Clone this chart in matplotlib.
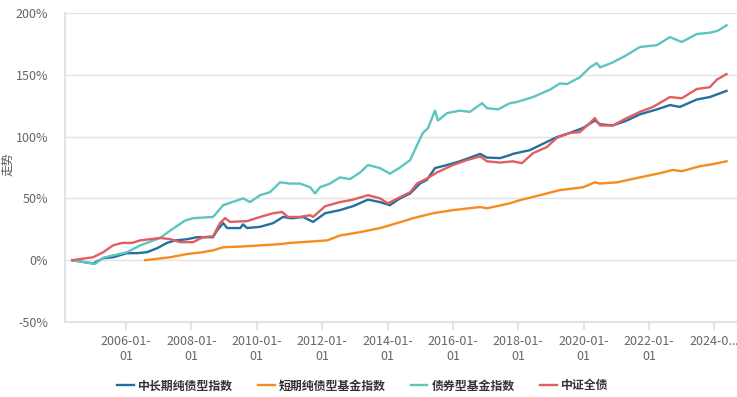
import matplotlib.pyplot as plt

plt.rcParams['font.family'] = ['Noto Sans CJK SC', 'DejaVu Sans']

# decimal years, cumulative return in %
blue_t = [2004.35, 2004.99, 2005.30, 2005.60, 2006.03, 2006.34, 2006.64, 2006.95, 2007.25,
          2007.50, 2007.87, 2008.17, 2008.48, 2008.66, 2008.78, 2008.97, 2009.09, 2009.49,
          2009.58, 2009.70, 2010.10, 2010.50, 2010.80, 2011.02, 2011.11, 2011.41, 2011.72,
          2012.09, 2012.54, 2012.94, 2013.40, 2013.77, 2014.07, 2014.38, 2014.69, 2014.99,
          2015.20, 2015.45, 2015.82, 2016.21, 2016.83, 2017.04, 2017.44, 2017.74, 2017.83,
          2018.35, 2018.66, 2019.18, 2019.58, 2019.98, 2020.34, 2020.50, 2020.89, 2021.32,
          2021.72, 2022.24, 2022.64, 2022.94, 2023.46, 2023.86, 2024.37]
blue_v = [0, -2.7, 1.6, 2.4, 5.7, 5.7, 6.5, 9.7, 14, 16, 17, 18.6, 18.6, 18.6, 24, 30, 26, 26,
          29, 26, 27, 30, 35, 34, 34, 35, 31, 38, 40.5, 43.7, 49, 47, 44.5, 50, 54, 62, 65,
          74.5, 77, 80, 86, 83, 82.6, 85, 86, 89, 93, 99.6, 103, 107, 113, 110, 109, 113,
          118, 122, 125.5, 124, 130, 132, 137]

orange_t = [2006.58, 2007.35, 2007.87, 2008.35, 2008.66, 2008.97, 2009.49, 2010.10, 2010.71,
            2011.02, 2012.15, 2012.54, 2013.16, 2013.77, 2014.29, 2014.78, 2015.39, 2016.00,
            2016.83, 2017.04, 2017.74, 2018.05, 2018.66, 2019.27, 2019.98, 2020.34, 2020.50,
            2021.02, 2021.72, 2022.33, 2022.73, 2023.00, 2023.55, 2023.95, 2024.37]
orange_v = [0, 2.4, 5, 6.5, 8, 10.5, 11, 12, 13, 14, 16, 20, 22.7, 26, 30, 34, 38, 40.5, 43, 42,
            46, 48.6, 52.6, 56.7, 59, 63, 62, 63, 67, 70.4, 73, 72, 76, 77.7, 80]

teal_t = [2004.35, 2004.70, 2005.05, 2005.30, 2006.03, 2006.43, 2007.04, 2007.35, 2007.80,
          2008.05, 2008.66, 2008.97, 2009.58, 2009.79, 2010.10, 2010.40, 2010.71, 2011.02,
          2011.32, 2011.63, 2011.78, 2011.93, 2012.24, 2012.54, 2012.85, 2013.16, 2013.40,
          2013.77, 2014.07, 2014.38, 2014.69, 2014.90, 2015.08, 2015.24, 2015.45, 2015.54,
          2015.82, 2016.21, 2016.52, 2016.89, 2017.04, 2017.38, 2017.74, 2017.96, 2018.45,
          2018.97, 2019.27, 2019.49, 2019.88, 2020.19, 2020.40, 2020.50, 2020.89, 2021.32,
          2021.72, 2022.24, 2022.64, 2023.00, 2023.46, 2023.86, 2024.10, 2024.37]
teal_v = [0, -1.5, -3, 2, 6.5, 12, 18, 24, 32, 34, 35, 44.5, 50, 47, 52.6, 55, 63, 62, 62, 59,
          54, 59, 62, 67, 65.6, 71, 77, 74.5, 70, 75, 81, 93, 103, 107, 121, 113, 119, 121,
          120, 127, 123, 122, 127, 128, 132, 138, 143, 142.5, 148, 156, 159.5, 156, 160, 166,
          172.5, 174, 180.5, 176.5, 183, 184, 185.6, 190]

red_t = [2004.35, 2004.99, 2005.30, 2005.60, 2005.88, 2006.18, 2006.43, 2006.73, 2007.04,
         2007.35, 2007.65, 2008.05, 2008.35, 2008.66, 2008.87, 2009.03, 2009.18, 2009.70,
         2010.10, 2010.50, 2010.77, 2010.95, 2011.32, 2011.63, 2011.72, 2012.09, 2012.54,
         2012.94, 2013.40, 2013.77, 2014.01, 2014.38, 2014.69, 2014.90, 2015.20, 2015.51,
         2016.00, 2016.43, 2016.83, 2017.04, 2017.44, 2017.83, 2018.11, 2018.45, 2018.87,
         2019.18, 2019.58, 2019.88, 2020.19, 2020.34, 2020.50, 2020.89, 2021.32, 2021.72,
         2022.12, 2022.64, 2023.00, 2023.46, 2023.86, 2024.07, 2024.37]
red_v = [0, 2.4, 6.5, 12, 14, 14, 16, 17, 18, 17, 14.6, 14.6, 18.6, 19.4, 30, 34, 31, 31.6, 35,
         38, 39, 35, 35, 36.4, 35, 43.7, 47, 49, 52.6, 50, 46, 51, 55, 62, 66, 71, 77, 81, 84,
         80, 79, 80, 78.5, 86.6, 91.5, 99, 103, 103.6, 111, 115, 109, 109, 115, 120, 124,
         132, 131, 138.5, 140, 146, 150.6]

names = ['中长期纯债型指数', '短期纯债型基金指数', '债券型基金指数', '中证全债']
colors = ['#21709e', '#f58c1f', '#5ec4c1', '#e35d60']

tick_years = [2006, 2008, 2010, 2012, 2014, 2016, 2018, 2020, 2022, 2024]
tick_labels = [f'{y}-01-\n01' for y in tick_years[:-1]] + ['2024-0...\n ']

fig = plt.figure(figsize=(7.37, 3.97), dpi=100)
ax = fig.add_axes([0.0882, 0.1889, 0.9118, 0.7784])

series = [(blue_t, blue_v), (orange_t, orange_v), (teal_t, teal_v), (red_t, red_v)]
for (t, v), name, c in zip(series, names, colors):
    ax.plot(t, v, color=c, lw=1.7, label=name)

ax.set_xlim(2004.13, 2024.69)
ax.set_ylim(-50, 200)
ax.set_yticks([-50, 0, 50, 100, 150, 200])
ax.set_yticklabels([f'{v}%' for v in [-50, 0, 50, 100, 150, 200]])
ax.set_xticks(tick_years)
ax.set_xticklabels(tick_labels)

ax.grid(axis='y', color='#e3e3e3', lw=1)
ax.set_axisbelow(True)
for s in ['top', 'right']:
    ax.spines[s].set_visible(False)
ax.spines['left'].set_color('#dde4ee')
ax.spines['left'].set_linewidth(1.5)
ax.spines['bottom'].set_color('#dde4ee')
ax.spines['bottom'].set_linewidth(1.5)
ax.tick_params(axis='y', length=0, labelsize=9, colors='#666666', pad=12)
ax.tick_params(axis='x', length=6, width=1.5, color='#dde4ee', labelsize=9,
               labelcolor='#666666', pad=3)
ax.set_ylabel('走势', fontsize=8.5, color='#555555')
ax.yaxis.set_label_coords(-0.075, 0.51)

fig.legend(loc='center', bbox_to_anchor=(0.492, 0.028), ncol=4, frameon=False,
           prop={'size': 8.6, 'weight': 'bold'}, handlelength=1.4, columnspacing=2.1,
           handletextpad=0.35, labelcolor='#333333')

fig.savefig('out.png', dpi=100)
